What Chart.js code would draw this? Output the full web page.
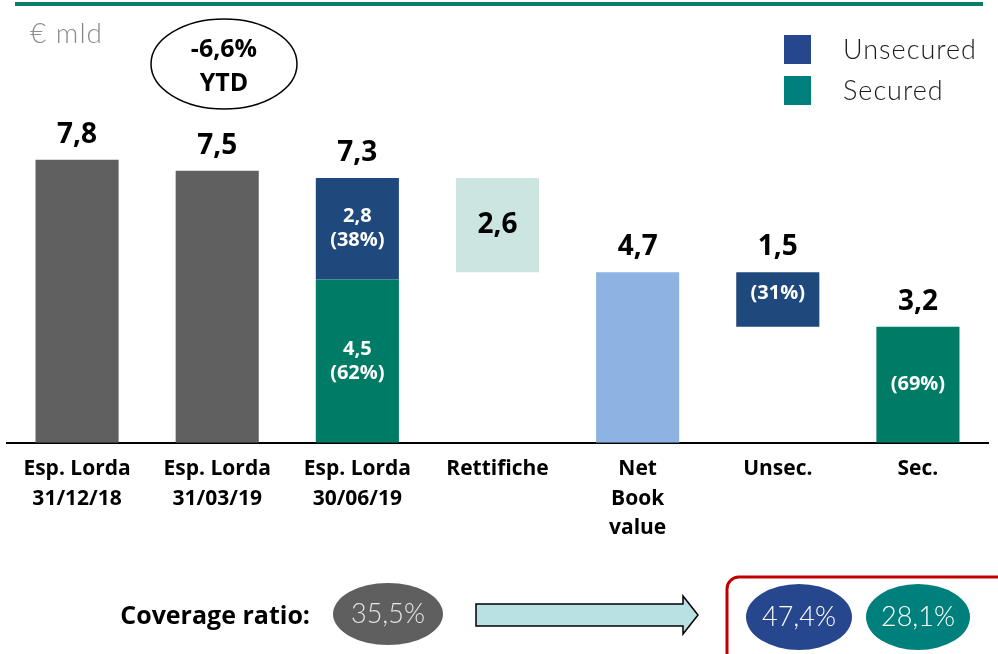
<!DOCTYPE html>
<html>
<head>
<meta charset="utf-8">
<script src="https://cdn.jsdelivr.net/npm/chart.js@4.4.1/dist/chart.umd.min.js"></script>
<style>
  html, body { margin: 0; padding: 0; background: #fff; }
  #wrap { width: 998px; height: 654px; }
</style>
</head>
<body>
<div id="wrap"><canvas id="npl-chart" width="998" height="654"></canvas></div>
<script>
// € mld
const categories = [
    ['Esp. Lorda', '31/12/18'],
    ['Esp. Lorda', '31/03/19'],
    ['Esp. Lorda', '30/06/19'],
    'Rettifiche',
    ['Net', 'Book', 'value'],
    'Unsec.',
    'Sec.'
];
const grossHistory = [7.8, 7.5];        // 31/12/18, 31/03/19
const securedValues = [4.5, 3.2];       // gross 30/06/19, net
const unsecuredValues = [2.8, 1.5];     // gross 30/06/19, net
const securedShares = [62, 69];
const unsecuredShares = [38, 31];
const writeDowns = [2.6];
const netBookValue = [4.7];
const ytdChange = [-6.6];
const coverageRatios = [35.5, 47.4, 28.1]; // total, unsecured, secured

const COLORS = {
    gray: '#606060',
    unsecured: '#1F487C',
    secured: '#007B65',
    writeDowns: '#CCE5E1',
    netBook: '#8DB3E2',
    legendUnsecured: '#26478D',
    legendSecured: '#00807C'
};

const BOLD = '"Open Sans", Lato, sans-serif';
const LIGHT = 'Lato, "Open Sans", sans-serif';

const fmt = (v) => v.toFixed(1).replace('.', ',');

function column(idx, value) {
    return categories.map((_, i) => (i === idx ? value : null));
}

const grossTotal = securedValues[0] + unsecuredValues[0];

const grayData = categories.map((_, i) => (i < grossHistory.length ? grossHistory[i] : null));
const securedData = categories.map(() => null);
securedData[2] = [0, securedValues[0]];
securedData[6] = [0, securedValues[1]];
const unsecuredData = categories.map(() => null);
unsecuredData[2] = [securedValues[0], grossTotal];
unsecuredData[5] = [securedValues[1], securedValues[1] + unsecuredValues[1]];
const writeDownData = column(3, [netBookValue[0], netBookValue[0] + writeDowns[0]]);
const netBookData = column(4, netBookValue[0]);

const barDefaults = { grouped: false, barPercentage: 0.593, categoryPercentage: 1 };

const annotations = {
    id: 'annotations',
    afterDatasetsDraw(chart) {
        const ctx = chart.ctx;
        const bar = (ds, i) => chart.getDatasetMeta(ds).data[i];
        ctx.save();
        ctx.textAlign = 'center';
        ctx.textBaseline = 'middle';

        // totals above the bars
        ctx.fillStyle = '#000';
        ctx.font = 'bold 28px ' + BOLD;
        const tops = [
            [bar(0, 0), grossHistory[0]],
            [bar(0, 1), grossHistory[1]],
            [bar(2, 2), grossTotal],
            [bar(4, 4), netBookValue[0]],
            [bar(2, 5), unsecuredValues[1]],
            [bar(1, 6), securedValues[1]]
        ];
        tops.forEach(([el, v]) => ctx.fillText(fmt(v), el.x, el.y - 25));

        const wd = bar(3, 3);
        ctx.fillText(fmt(writeDowns[0]), wd.x, (wd.y + wd.base) / 2);

        // shares inside the segments
        ctx.fillStyle = '#fff';
        ctx.font = 'bold 20px ' + BOLD;
        const u = bar(2, 2), s = bar(1, 2);
        let cy = (u.y + u.base) / 2;
        ctx.fillText(fmt(unsecuredValues[0]), u.x, cy - 12);
        ctx.fillText('(' + unsecuredShares[0] + '%)', u.x, cy + 12);
        cy = (s.y + s.base) / 2;
        ctx.fillText(fmt(securedValues[0]), s.x, cy - 12);
        ctx.fillText('(' + securedShares[0] + '%)', s.x, cy + 12);

        const un = bar(2, 5), sn = bar(1, 6);
        ctx.fillText('(' + unsecuredShares[1] + '%)', un.x, (un.y + un.base) / 2 - 6);
        ctx.fillText('(' + securedShares[1] + '%)', sn.x, (sn.y + sn.base) / 2);
        ctx.restore();
    },
    afterDraw(chart) {
        const ctx = chart.ctx;
        ctx.save();

        // header rule
        ctx.fillStyle = '#0B7B6A';
        ctx.fillRect(15, 2, 968, 4);

        // unit
        ctx.fillStyle = '#8C8C8C';
        ctx.font = '300 28px ' + LIGHT;
        ctx.letterSpacing = '1px';
        ctx.textBaseline = 'middle';
        ctx.fillText('€ mld', 30, 34);

        // legend
        ctx.font = '300 27px ' + LIGHT;
        [['Unsecured', COLORS.legendUnsecured, 35], ['Secured', COLORS.legendSecured, 76]].forEach(([txt, col, y]) => {
            ctx.fillStyle = col;
            ctx.fillRect(784, y, 27, 29);
            ctx.fillStyle = '#1a1a1a';
            ctx.fillText(txt, 843, y + 15);
        });
        ctx.letterSpacing = '0px';

        // YTD bubble
        ctx.beginPath();
        ctx.ellipse(224, 64, 73, 45, 0, 0, Math.PI * 2);
        ctx.fillStyle = '#fff';
        ctx.fill();
        ctx.lineWidth = 1.5;
        ctx.strokeStyle = '#000';
        ctx.stroke();
        ctx.fillStyle = '#000';
        ctx.textAlign = 'center';
        ctx.font = 'bold 25px ' + BOLD;
        ctx.fillText(fmt(ytdChange[0]) + '%', 224, 50);
        ctx.fillText('YTD', 224, 84);

        // coverage ratio row
        ctx.fillStyle = '#000';
        ctx.font = 'bold 25px ' + BOLD;
        ctx.textAlign = 'right';
        ctx.fillText('Coverage ratio:', 310, 617);

        const bubble = (cx, cy, rx, ry, fill, txtColor, v) => {
            ctx.beginPath();
            ctx.ellipse(cx, cy, rx, ry, 0, 0, Math.PI * 2);
            ctx.fillStyle = fill;
            ctx.fill();
            ctx.fillStyle = txtColor;
            ctx.textAlign = 'center';
            ctx.font = '300 27px ' + LIGHT;
            ctx.fillText(fmt(v) + '%', cx, cy);
        };
        bubble(388, 614, 55, 31, '#5F5F5F', '#E6E6E6', coverageRatios[0]);

        // arrow
        ctx.beginPath();
        ctx.moveTo(476, 604);
        ctx.lineTo(683, 604);
        ctx.lineTo(683, 596);
        ctx.lineTo(698, 615);
        ctx.lineTo(683, 634);
        ctx.lineTo(683, 626);
        ctx.lineTo(476, 626);
        ctx.closePath();
        ctx.fillStyle = '#B9E0E2';
        ctx.fill();
        ctx.lineWidth = 1.5;
        ctx.strokeStyle = '#000';
        ctx.stroke();

        // highlighted box
        ctx.beginPath();
        ctx.roundRect(727, 577, 300, 100, 12);
        ctx.lineWidth = 3;
        ctx.strokeStyle = '#C00000';
        ctx.stroke();

        bubble(799, 617, 53, 33, COLORS.legendUnsecured, '#fff', coverageRatios[1]);
        bubble(918, 617, 52, 33, COLORS.legendSecured, '#fff', coverageRatios[2]);

        ctx.restore();
    }
};

new Chart(document.getElementById('npl-chart'), {
    type: 'bar',
    data: {
        labels: categories,
        datasets: [
            { label: 'Esp. Lorda', data: grayData, backgroundColor: COLORS.gray, ...barDefaults },
            { label: 'Secured', data: securedData, backgroundColor: COLORS.secured, ...barDefaults },
            { label: 'Unsecured', data: unsecuredData, backgroundColor: COLORS.unsecured, ...barDefaults },
            { label: 'Rettifiche', data: writeDownData, backgroundColor: COLORS.writeDowns, ...barDefaults },
            { label: 'Net Book value', data: netBookData, backgroundColor: COLORS.netBook, ...barDefaults }
        ]
    },
    options: {
        responsive: false,
        animation: false,
        layout: { padding: { left: 7, right: 10, top: 80, bottom: 99 } },
        plugins: {
            legend: { display: false },
            tooltip: { enabled: false }
        },
        scales: {
            x: {
                grid: { display: false, drawTicks: false },
                border: { display: true, color: '#000', width: 2 },
                ticks: {
                    color: '#000',
                    padding: 12,
                    maxRotation: 0,
                    autoSkip: false,
                    font: { family: BOLD, weight: 'bold', size: 21, lineHeight: 1.4 }
                }
            },
            y: { display: false, min: 0, max: 10 }
        }
    },
    plugins: [annotations]
});
</script>
</body>
</html>
